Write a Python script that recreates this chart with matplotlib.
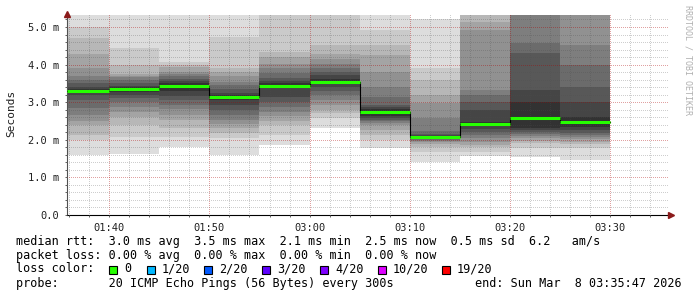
import matplotlib.pyplot as plt
from matplotlib.patches import Rectangle
import numpy as np

# 20 sorted ping rtts (ms) per 5 min step, tops clipped at the graph limit
p_0140 = [1.60, 1.99, 2.13, 2.39, 2.51, 2.66, 2.85, 3.06, 3.18, 3.27, 3.35, 3.40, 3.50, 3.59, 3.70, 3.90, 4.28, 4.72, 4.99, 5.32]
p_0145 = [1.62, 2.07, 2.39, 2.61, 2.75, 2.86, 3.01, 3.12, 3.19, 3.28, 3.40, 3.43, 3.50, 3.59, 3.66, 3.70, 3.75, 3.99, 4.43, 5.32]
p_0150 = [1.82, 2.08, 2.31, 2.53, 2.66, 2.82, 2.93, 3.06, 3.17, 3.30, 3.52, 3.56, 3.62, 3.70, 3.76, 3.81, 3.94, 4.00, 4.08, 5.32]
p_0155 = [1.60, 2.04, 2.17, 2.31, 2.42, 2.53, 2.65, 2.80, 2.93, 3.06, 3.20, 3.25, 3.36, 3.46, 3.55, 3.70, 3.81, 3.90, 4.74, 5.32]
p_0300 = [1.86, 2.13, 2.39, 2.50, 2.62, 2.75, 2.88, 3.01, 3.15, 3.38, 3.50, 3.56, 3.65, 3.77, 3.90, 4.01, 4.20, 4.34, 5.32, 5.32]
p_0305 = [2.31, 2.57, 2.70, 2.79, 2.93, 3.06, 3.19, 3.30, 3.40, 3.48, 3.63, 3.72, 3.81, 3.90, 4.01, 4.15, 4.27, 4.52, 5.32, 5.32]
p_0310 = [1.77, 1.99, 2.13, 2.26, 2.39, 2.45, 2.50, 2.53, 2.58, 2.63, 2.83, 2.88, 2.93, 3.15, 3.41, 3.81, 4.26, 4.52, 4.92, 5.32]
p_0315 = [1.42, 1.68, 1.80, 1.88, 1.93, 1.97, 2.00, 2.02, 2.04, 2.05, 2.09, 2.12, 2.15, 2.23, 2.57, 2.97, 3.19, 3.59, 3.90, 5.21]
p_0320 = [1.57, 1.68, 1.80, 1.86, 1.95, 2.04, 2.12, 2.20, 2.30, 2.38, 2.47, 2.80, 3.00, 3.19, 3.32, 4.92, 5.14, 5.32, 5.32, 5.32]
p_0325 = [1.55, 1.77, 1.91, 1.97, 2.04, 2.10, 2.15, 2.20, 2.26, 2.31, 3.01, 3.32, 4.30, 4.57, 5.32, 5.32, 5.32, 5.32, 5.32, 5.32]
p_0330 = [1.46, 1.77, 1.88, 1.95, 2.02, 2.08, 2.13, 2.17, 2.25, 2.34, 2.60, 3.01, 3.41, 3.99, 4.52, 5.32, 5.32, 5.32, 5.32, 5.32]
steps = [p_0140, p_0145, p_0150, p_0155, p_0300, p_0305, p_0310, p_0315, p_0320, p_0325, p_0330]

median = [3.31, 3.34, 3.42, 3.13, 3.44, 3.54, 2.73, 2.07, 2.43, 2.57, 2.47]
step_end = ["01:40", "01:45", "01:50", "01:55", "03:00", "03:05",
            "03:10", "03:15", "03:20", "03:25", "03:30"]
xtick_labels = ["01:40", "01:50", "03:00", "03:10", "03:20", "03:30"]
ytick_labels = ["0.0", "1.0 m", "2.0 m", "3.0 m", "4.0 m", "5.0 m"]

loss_labels = ["0", "1/20", "2/20", "3/20", "4/20", "10/20", "19/20"]
loss_colors = ["#26ff00", "#00b8ff", "#0059ff", "#5e00ff", "#7e00ff", "#dd00ff", "#ff0000"]

rtt_line = "median rtt:  3.0 ms avg  3.5 ms max  2.1 ms min  2.5 ms now  0.5 ms sd  6.2   am/s"
loss_line = "packet loss: 0.00 % avg  0.00 % max  0.00 % min  0.00 % now"
probe_line = "probe:       20 ICMP Echo Pings (56 Bytes) every 300s"
end_line = "end: Sun Mar  8 03:35:47 2026"


def elapsed(hhmm):
    # minutes since 01:35:47, 02:00-03:00 skipped (DST)
    h, m = map(int, hhmm.split(":"))
    t = h * 60 + m - (95 + 47 / 60)
    return t - 60 if h >= 3 else t


W, H = 697, 297
mono = "DejaVu Sans Mono"
plt.rcParams["font.family"] = mono

fig = plt.figure(figsize=(W / 100, H / 100), dpi=100)
fig.patch.set_facecolor("white")
ytop = 5.35
ppm = 37.6  # px per ms
ax = fig.add_axes([67 / W, (H - 215) / H, 601 / W, ytop * ppm / H])

t_end = np.array([elapsed(s) for s in step_end])
t_start = np.r_[0.0, t_end[:-1]]
width = t_end - t_start
cols = np.array(steps)

# smoke: nested bands, darker towards the middle
for i in range(10):
    g = (int(190 / 10 * (9 - i)) + 50) / 255
    lo = cols[:, i]
    hi = cols[:, 19 - i]
    ax.bar(t_start, hi - lo, width=width, bottom=lo, align="edge",
           color=(g, g, g), linewidth=0, antialiased=False, zorder=1)

ax.step(np.r_[t_start, t_end[-1]], np.r_[median, median[-1]], where="post",
        color="black", lw=0.8, zorder=3)
ax.hlines(median, t_start, t_end, color=loss_colors[0], lw=2.2, zorder=4)

ax.set_xlim(0, 60)
ax.set_ylim(0, ytop)

xt = np.array([elapsed(s) for s in xtick_labels])
xminor = [v for v in np.arange(xt[0] % 2, 60, 2) if np.min(np.abs(xt - v)) > 0.1]
ax.set_xticks(xt)
ax.set_xticklabels(xtick_labels)
ax.set_xticks(xminor, minor=True)
ax.set_yticks(np.arange(6))
ax.set_yticklabels(ytick_labels)
ax.set_yticks([v for v in np.arange(0.2, ytop, 0.2) if abs(v - round(v)) > 0.05], minor=True)

ax.tick_params(which="both", length=1.5, width=0.7, color="#606060",
               labelsize=7.5, pad=4, labelcolor="#202020")
ax.set_axisbelow(False)
ax.grid(which="major", color=(0.68, 0, 0), alpha=0.37, lw=0.72, ls=(0.5, (1, 1)))
ax.grid(which="minor", color=(0.3, 0.3, 0.3), alpha=0.27, lw=0.72, ls=(0.5, (1, 1)))

for s in ("top", "right"):
    ax.spines[s].set_visible(False)
ax.spines["bottom"].set_color("black")
ax.spines["left"].set_color("#505050")
ax.spines["bottom"].set_linewidth(0.8)
ax.spines["left"].set_linewidth(0.8)

# axis arrows
ax.plot([0], [1], marker="^", ms=4.5, color="#8b1a1a", transform=ax.transAxes,
        clip_on=False, zorder=6)
ax.plot([1.005], [0], marker=">", ms=4.5, color="#8b1a1a", transform=ax.transAxes,
        clip_on=False, zorder=6)

fig.text(11 / W, 1 - 113 / H, "Seconds", rotation=90, ha="center", va="center",
         fontsize=8, color="#202020")
fig.text(688 / W, 1 - 60 / H, "RRDTOOL / TOBI OETIKER", rotation=270,
         ha="center", va="center", fontsize=6, color="#b0b0b0")

fs = 8.5
fig.text(16 / W, 1 - 244.5 / H, rtt_line, fontsize=fs, va="baseline")
fig.text(16 / W, 1 - 258.5 / H, loss_line, fontsize=fs, va="baseline")
fig.text(16 / W, 1 - 272.5 / H, "loss color:", fontsize=fs, va="baseline")
box_x = [109, 147, 204, 262, 320, 378, 442]
for bx, lab, c in zip(box_x, loss_labels, loss_colors):
    fig.add_artist(Rectangle((bx / W, 1 - 273.5 / H), 8 / W, 8 / H,
                             transform=fig.transFigure, facecolor=c,
                             edgecolor="black", lw=0.8))
    fig.text((bx + 15) / W, 1 - 272.5 / H, lab, fontsize=fs, va="baseline")
fig.text(16 / W, 1 - 287 / H, probe_line, fontsize=fs, va="baseline")
fig.text(682 / W, 1 - 287 / H, end_line, fontsize=fs, va="baseline", ha="right")

fig.savefig("out.png", dpi=100, facecolor="white")
